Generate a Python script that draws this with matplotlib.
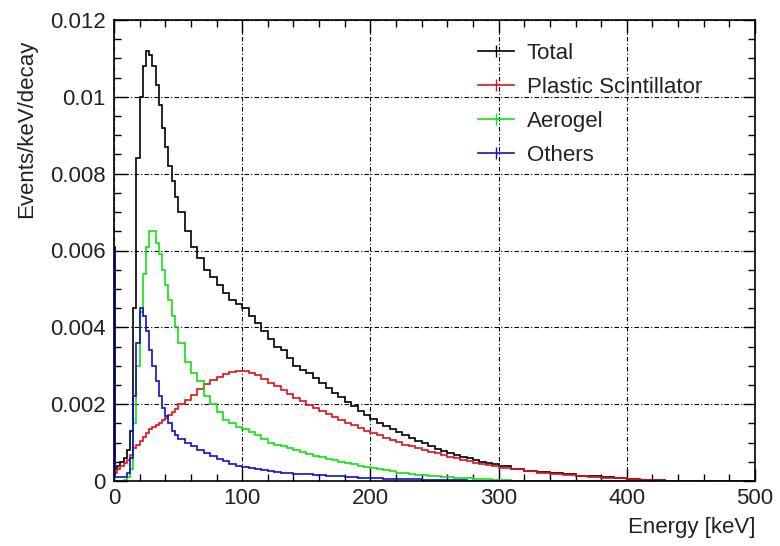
import matplotlib
matplotlib.use("Agg")
import matplotlib.pyplot as plt
from matplotlib.lines import Line2D
from matplotlib.ticker import MultipleLocator, FuncFormatter
import numpy as np

# bin edges [keV]: one narrow first bin, 2.5 keV up to 50, 5 keV up to 300, 10 keV up to 500
edges = ([0, 1] + [2.5 * i for i in range(1, 21)]
         + [50 + 5 * i for i in range(1, 51)]
         + [300 + 10 * i for i in range(1, 21)])

# Events/keV/decay per bin
total = ([0.0061, 0.0003]
         + [0.0004, 0.0005, 0.0006, 0.0008, 0.0013, 0.0045, 0.0084, 0.0100, 0.0108, 0.0112,
            0.0111, 0.0108, 0.0103, 0.0098, 0.0092, 0.0087, 0.0082, 0.0078, 0.0074]
         + [0.0070, 0.0065, 0.0061, 0.0058, 0.0055, 0.0053, 0.0051, 0.0049, 0.0047, 0.0046,
            0.0045, 0.0043, 0.0041, 0.0039, 0.0037, 0.0035, 0.0034, 0.0032, 0.0030, 0.0029,
            0.0028, 0.00267, 0.00254, 0.00242, 0.0023, 0.00218, 0.00206, 0.00194, 0.00183, 0.00172,
            0.00161, 0.00152, 0.00144, 0.00135, 0.00127, 0.00119, 0.00112, 0.00105, 0.00099, 0.0009,
            0.00084, 0.00078, 0.00073, 0.00068, 0.00063, 0.00059, 0.00054, 0.0005, 0.00047, 0.00043]
         + [0.00038, 0.00032, 0.00027, 0.00023, 0.0002, 0.00017, 0.00014, 0.00012, 0.0001, 0.00007,
            0.00005, 0.00003, 0.00002, 0, 0, 0, 0, 0, 0, 0])

plastic = ([0.0001, 0.0002]
           + [0.0003, 0.0004, 0.00047, 0.00055, 0.00068, 0.00085, 0.00095, 0.00105, 0.00115, 0.00125,
              0.00135, 0.0014, 0.00145, 0.0015, 0.00158, 0.00165, 0.00172, 0.0018, 0.00188]
           + [0.002, 0.00212, 0.00225, 0.0024, 0.00252, 0.00263, 0.00272, 0.00279, 0.00284, 0.00287,
              0.00286, 0.00282, 0.00275, 0.00266, 0.00256, 0.00246, 0.00236, 0.00226, 0.00216, 0.00207,
              0.00198, 0.0019, 0.00182, 0.00175, 0.00167, 0.0016, 0.00152, 0.00145, 0.00138, 0.00131,
              0.00125, 0.00119, 0.00113, 0.00107, 0.00101, 0.00095, 0.0009, 0.00085, 0.0008, 0.00076,
              0.00072, 0.00068, 0.00063, 0.00059, 0.00055, 0.00052, 0.00048, 0.00045, 0.00042, 0.00039]
           + [0.00035, 0.0003, 0.00026, 0.00022, 0.00019, 0.00016, 0.00013, 0.00011, 0.00009, 0.00007,
              0.00005, 0.00003, 0.00002, 0, 0, 0, 0, 0, 0, 0])

aerogel = ([0, 0]
           + [0, 0, 0.00002, 0.0001, 0.0003, 0.0015, 0.0030, 0.0044, 0.0054, 0.0061,
              0.0065, 0.0065, 0.0062, 0.0059, 0.0055, 0.0051, 0.0047, 0.0043, 0.0040]
           + [0.0036, 0.0031, 0.0028, 0.0026, 0.0022, 0.0020, 0.0018, 0.0016, 0.0015, 0.0014,
              0.00135, 0.00127, 0.0012, 0.0011, 0.001, 0.00095, 0.0009, 0.00085, 0.0008, 0.00075,
              0.0007, 0.00066, 0.00062, 0.00058, 0.00054, 0.0005, 0.00047, 0.00044, 0.0004, 0.00037,
              0.00034, 0.00031, 0.00028, 0.00025, 0.00022, 0.0002, 0.00018, 0.00016, 0.00015, 0.00013,
              0.00012, 0.00011, 0.0001, 0.00009, 0.00008, 0.00007, 0.00006, 0.00005, 0.00004, 0.00003]
           + [0.00002, 0.00001, 0.00001, 0, 0, 0, 0, 0, 0, 0,
              0, 0, 0, 0, 0, 0, 0, 0, 0, 0])

others = ([0.0060, 0.0001]
          + [0.0001, 0.0001, 0.0001, 0.0002, 0.0006, 0.0022, 0.0036, 0.0045, 0.0043, 0.0039,
             0.0034, 0.0030, 0.0026, 0.0022, 0.0019, 0.0017, 0.0015, 0.0013, 0.0012]
          + [0.0011, 0.00098, 0.0009, 0.0008, 0.00072, 0.00065, 0.00058, 0.00051, 0.00045, 0.0004,
             0.00036, 0.00033, 0.0003, 0.00028, 0.00026, 0.00024, 0.00022, 0.0002, 0.00019, 0.00018,
             0.00017, 0.00016, 0.00015, 0.00014, 0.00013, 0.00012, 0.00011, 0.0001, 0.00009, 0.00008,
             0.00007, 0.00007, 0.00006, 0.00006, 0.00005, 0.00005, 0.00004, 0.00004, 0.00003, 0.00003,
             0.00003, 0.00002, 0.00002, 0.00002, 0.00002, 0.00001, 0.00001, 0.00001, 0.00001, 0.00001]
          + [0.00001, 0.00001, 0, 0, 0, 0, 0, 0, 0, 0,
             0, 0, 0, 0, 0, 0, 0, 0, 0, 0])

labels = ["Total", "Plastic Scintillator", "Aerogel", "Others"]
colors = ["black", "#e0101c", "#10e010", "#1010c8"]

plt.rcParams['font.family'] = ['Liberation Sans', 'DejaVu Sans']
txt = '#222222'

fig = plt.figure(figsize=(7.8, 5.46), dpi=100)
ax = fig.add_axes([114 / 780, 1 - 481 / 546, (755 - 114) / 780, (481 - 20) / 546])

for vals, c in zip([total, plastic, aerogel, others], colors):
    ax.stairs(vals, edges, color=c, lw=1.2)

ax.set_xlim(0, 500)
ax.set_ylim(0, 0.012)
ax.xaxis.set_major_locator(MultipleLocator(100))
ax.xaxis.set_minor_locator(MultipleLocator(20))
ax.yaxis.set_major_locator(MultipleLocator(0.002))
ax.yaxis.set_minor_locator(MultipleLocator(0.0005))
ax.yaxis.set_major_formatter(FuncFormatter(lambda v, p: "%g" % round(v, 4)))
ax.tick_params(which='both', direction='in', top=True, right=True,
               labelsize=16, labelcolor=txt, width=1)
ax.tick_params(which='major', length=9)
ax.tick_params(which='minor', length=5)
ax.tick_params(axis='y', pad=6)
ax.tick_params(axis='x', pad=5)
ax.grid(True, which='major', color='black', linestyle=(0, (4, 2, 1, 2)), lw=0.8)
ax.set_axisbelow(True)
for s in ax.spines.values():
    s.set_linewidth(1.2)

fig.text(27 / 780, 1 - 40 / 546, "Events/keV/decay", rotation=90,
         ha='center', va='top', fontsize=16, color=txt)
fig.text(755 / 780, 1 - 528 / 546, "Energy [keV]", ha='right', va='center',
         fontsize=16, color=txt)

handles = [Line2D([], [], color=c, lw=1.2, marker='|', markersize=8, markeredgewidth=1)
           for c in colors]
ax.legend(handles, labels, loc='upper left', bbox_to_anchor=(478 / 780, 1 - 43 / 546),
          bbox_transform=fig.transFigure, frameon=False, borderpad=0, borderaxespad=0,
          fontsize=16, handlelength=1.6, handletextpad=0.6, labelspacing=0.58,
          labelcolor=txt)

fig.savefig("out.png", dpi=100)
